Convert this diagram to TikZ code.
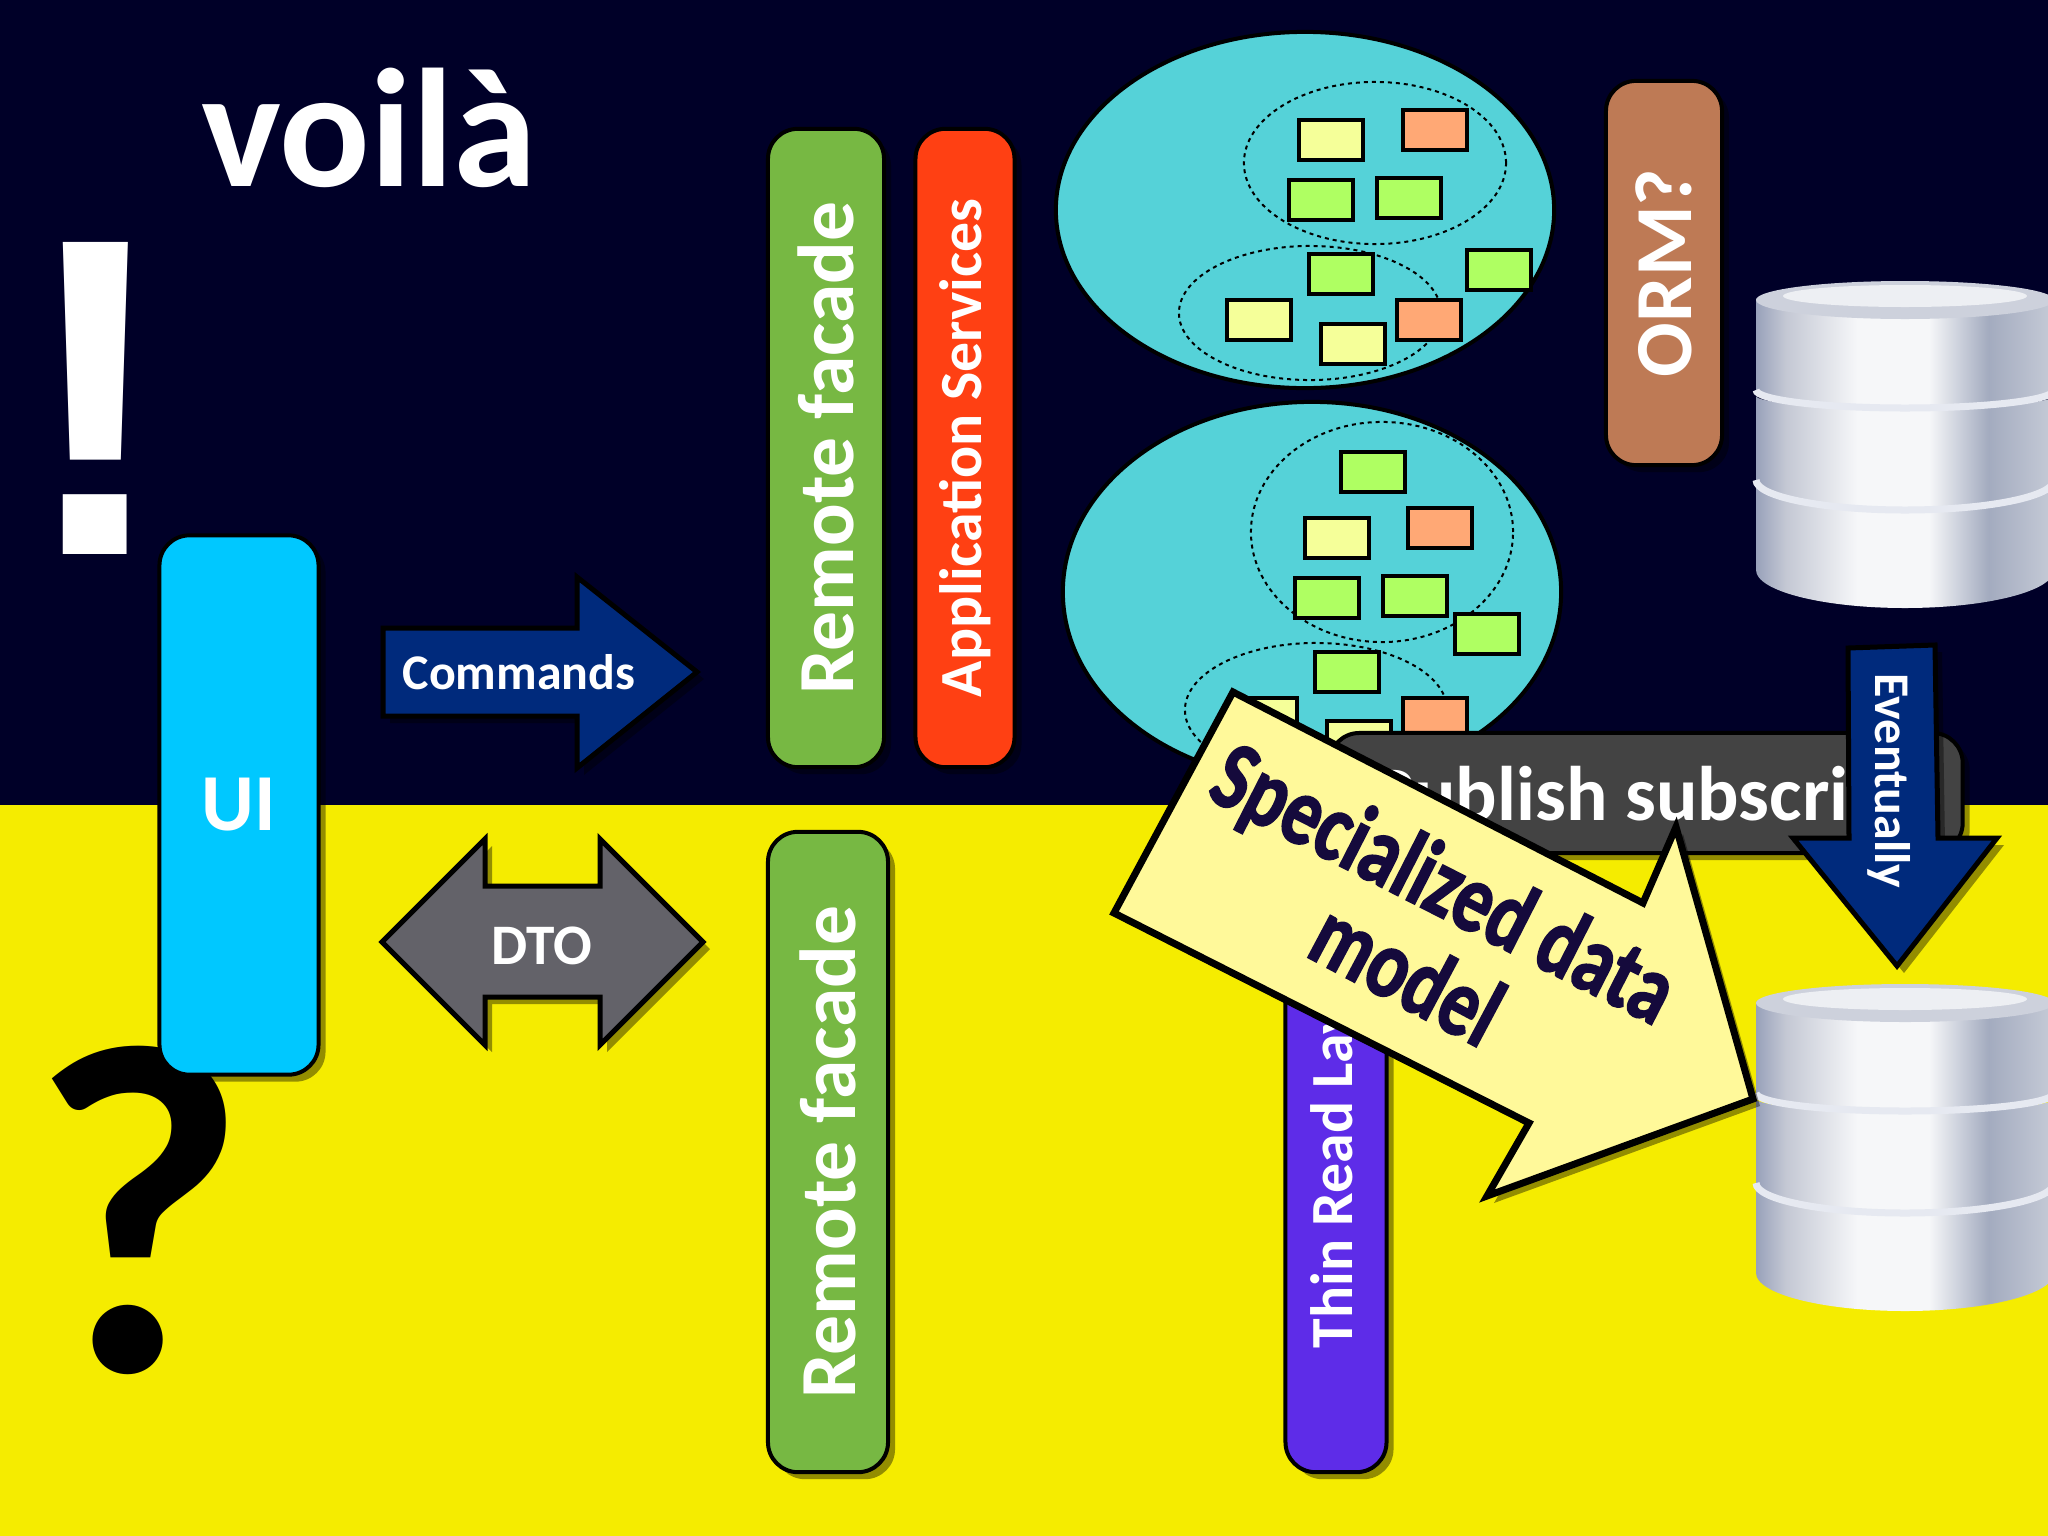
\documentclass[tikz,border=0pt]{standalone}
\usepackage{fontspec}
\setmainfont{Carlito}
\newfontfamily\warpfont[FakeBold=1.6,FakeStretch=0.77]{Carlito Bold}
\newfontfamily\markfont{Liberation Sans Bold}
\usetikzlibrary{shapes.geometric,shadows}

\definecolor{nightblue}{HTML}{000028}
\definecolor{brightyellow}{HTML}{F5EC00}
\definecolor{facadegreen}{HTML}{77B843}
\definecolor{serviceorange}{HTML}{FF4013}
\definecolor{ormbrown}{HTML}{BE7A55}
\definecolor{uicyan}{HTML}{00C8FF}
\definecolor{arrowblue}{HTML}{002A7C}
\definecolor{dtogrey}{HTML}{636269}
\definecolor{readpurple}{HTML}{5E2CE8}
\definecolor{pubgrey}{HTML}{434343}
\definecolor{modelyellow}{HTML}{FFF99A}
\definecolor{wordnavy}{HTML}{150A3C}
\definecolor{domainteal}{HTML}{55D2D8}
\definecolor{cellyellow}{HTML}{F5FF99}
\definecolor{cellorange}{HTML}{FFA875}
\definecolor{cellgreen}{HTML}{AFFF62}
\definecolor{dblip}{HTML}{E6E9F1}
\definecolor{dbtop}{HTML}{CDD1DC}
\definecolor{dbinner}{HTML}{EDEFF3}
\definecolor{metalA}{HTML}{98A1BA}
\definecolor{metalB}{HTML}{C4C8D4}
\definecolor{metalC}{HTML}{F6F7F9}
\definecolor{metalD}{HTML}{A3ABBF}
\definecolor{metalE}{HTML}{C6CBD7}
\pgfdeclarehorizontalshading{metal}{100bp}{color(0bp)=(metalA); color(25bp)=(metalA); color(30bp)=(metalB); color(42bp)=(metalC); color(54bp)=(metalC); color(64bp)=(metalD); color(75bp)=(metalE); color(100bp)=(metalE)}

\tikzset{
  softshadow/.style={drop shadow={shadow xshift=0.07cm,shadow yshift=-0.07cm,fill=black,opacity=0.4}},
  bar/.style={rectangle,rounded corners=0.3cm,draw=black,line width=0.04cm,text=white,inner sep=0pt,softshadow,font=\bfseries},
  blob/.style={ellipse,draw=black,line width=0.04cm,fill=domainteal,inner sep=0pt},
  context/.style={ellipse,draw=black,line width=0.02cm,dash pattern=on 0.04cm off 0.04cm,inner sep=0pt,minimum width=2.62cm},
  cell/.style={rectangle,draw=black,line width=0.04cm,minimum width=0.63cm,minimum height=0.4cm,inner sep=0pt},
  block/.style={draw=black,line width=0.05cm,line join=miter,softshadow},
  caption/.style={text=white,inner sep=0pt,font=\bfseries},
  dbstack/.pic={
    \foreach \ytop/\ybot/\sag in {194/289/38,115/199/30,17/109/18}
      \path[shading=metal] (-149,\ytop) -- (-149,\ybot)
        arc[start angle=180,end angle=0,x radius=149,y radius=\sag]
        -- (149,\ytop) arc[start angle=0,end angle=180,x radius=149,y radius=12] -- cycle;
    \foreach \ybot/\sag in {199/30,109/18}
      \draw[dblip,line width=0.07cm] (-149,\ybot)
        arc[start angle=180,end angle=0,x radius=149,y radius=\sag];
    \fill[dbtop] (0,19) ellipse[x radius=149,y radius=19];
    \fill[dbinner] (0,15) ellipse[x radius=122,y radius=11];
  }
}

\begin{document}
\begin{tikzpicture}[x=0.01cm,y=-0.01cm]
  \useasboundingbox (0,0) rectangle (2048,1536);
  \fill[nightblue] (0,0) rectangle (2048,805);
  \fill[brightyellow] (0,805) rectangle (2048,1536);

  % Headline and the two big marks
  \node[caption,anchor=base,font=\bfseries\fontsize{48}{48}\selectfont] (title) at (369,186) {voilà};
  \node[caption,font=\markfont\fontsize{129}{129}\selectfont] (bang) at (96,398) {!};
  \node[text=black,inner sep=0pt,font=\bfseries\fontsize{134}{134}\selectfont] (query) at (139,1210) {?};

  % Left column
  \node[bar,fill=uicyan,minimum width=1.59cm,minimum height=5.39cm,font=\bfseries\fontsize{23}{23}\selectfont] (ui) at (239,805) {UI};
  \draw[block,fill=arrowblue,draw=black] (383,628) -- (577,628) -- (577,577) -- (697,672) -- (577,768) -- (577,716) -- (383,716) -- cycle;
  \node[caption,font=\bfseries\fontsize{14.2}{14.2}\selectfont] (commands) at (519,672) {Commands};
  \draw[block,fill=dtogrey] (382,942) -- (485,839) -- (485,886) -- (600,886) -- (600,839) -- (703,942) -- (600,1045) -- (600,997) -- (485,997) -- (485,1045) -- cycle;
  \node[caption,font=\bfseries\fontsize{16.3}{16.3}\selectfont] (dto) at (542,946) {DTO};

  % Upper and lower facades
  \node[bar,fill=facadegreen,rotate=90,minimum width=6.38cm,minimum height=1.16cm,font=\bfseries\fontsize{22.6}{22.6}\selectfont] (facadeup) at (826,448) {Remote facade};
  \node[bar,fill=serviceorange,rotate=90,minimum width=6.38cm,minimum height=0.99cm,font=\bfseries\fontsize{17}{17}\selectfont] (services) at (965,448) {Application Services};
  \node[bar,fill=facadegreen,rotate=90,minimum width=6.40cm,minimum height=1.20cm,font=\bfseries\fontsize{22.6}{22.6}\selectfont] (facadedown) at (828,1152) {Remote facade};
  \node[bar,fill=ormbrown,rotate=90,minimum width=3.84cm,minimum height=1.16cm,font=\bfseries\fontsize{23}{23}\selectfont] (orm) at (1664,273) {ORM?};

  % Domain blobs with their contexts
  \node[blob,minimum width=4.98cm,minimum height=3.56cm] (blobup) at (1305,210) {};
  \node[context,minimum height=1.62cm] (ctxa) at (1375,163) {};
  \node[context,minimum height=1.34cm] (ctxb) at (1310,313) {};
  \node[blob,minimum width=4.98cm,minimum height=3.80cm] (blobdown) at (1312,592) {};
  \node[context,minimum height=2.20cm] (ctxc) at (1382,532) {};
  \node[context,minimum height=1.34cm] (ctxd) at (1316,710) {};
  \foreach \x/\y/\c [count=\i] in {1331/140/cellyellow,1435/130/cellorange,1321/200/cellgreen,1409/198/cellgreen,
    1341/274/cellgreen,1499/270/cellgreen,1259/320/cellyellow,1353/344/cellyellow,1429/320/cellorange,
    1373/472/cellgreen,1337/538/cellyellow,1440/528/cellorange,1327/598/cellgreen,1415/596/cellgreen,
    1487/634/cellgreen,1347/672/cellgreen,1265/718/cellyellow,1359/741/cellyellow,1435/718/cellorange}
    \node[cell,fill=\c] (cell\i) at (\x,\y) {};

  % Read side
  \node[bar,fill=readpurple,rotate=90,minimum width=6.40cm,minimum height=1.01cm,font=\bfseries\fontsize{17}{17}\selectfont] (thinread) at (1336,1152) {Thin Read Layer};
  \node[bar,fill=pubgrey,minimum width=6.33cm,minimum height=1.20cm] (pubsub) at (1646,793) {};
  \node[caption,anchor=base,font=\bfseries\fontsize{22}{22}\selectfont] (pubtext) at (1651,820) {Publish subscribe};

  \pic (dbup) at (1905,281) {dbstack};
  \pic (dbdown) at (1905,984) {dbstack};

  \draw[block,fill=arrowblue] (1848,648) -- (1935,645) -- (1938,838) -- (1997,838) -- (1897,966) -- (1793,838) -- (1849,838) -- cycle;
  \node[caption,rotate=-90,font=\bfseries\fontsize{14.2}{14.2}\selectfont] (eventually) at (1889,781) {Eventually};

  % Big pointer on top of everything
  \draw[block,line width=0.07cm,fill=modelyellow] (1233,692) -- (1643,903) -- (1676,827) -- (1753,1099) -- (1487,1196) -- (1529,1123) -- (1114,913) -- cycle;
  \node[text=wordnavy,rotate=-27,inner sep=0pt,font=\warpfont\fontsize{28}{28}\selectfont] (modelup) at (1442,888) {Specialized data};
  \node[text=wordnavy,rotate=-28,inner sep=0pt,font=\warpfont\fontsize{28}{28}\selectfont] (modeldown) at (1408,972) {model};
\end{tikzpicture}
\end{document}
